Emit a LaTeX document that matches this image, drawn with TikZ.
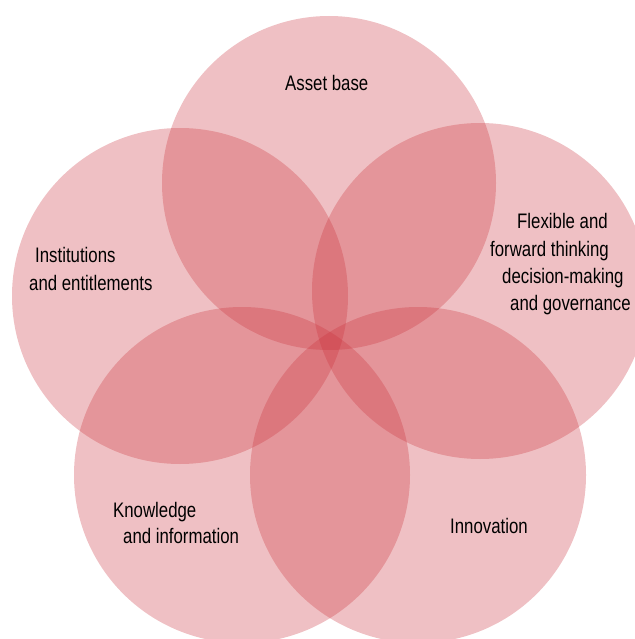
\documentclass[tikz,border=0pt]{standalone}
\usepackage{fontspec}
\setmainfont{Liberation Sans}[FakeStretch=0.8]
\definecolor{petalred}{RGB}{202,48,58}
\begin{document}
\begin{tikzpicture}[x=1bp,y=-1bp,
  petal/.style={fill=petalred,fill opacity=0.3},
  lbl/.style={anchor=base west,inner sep=0pt,font=\fontsize{21bp}{26bp}\selectfont,text=black}]
\useasboundingbox (0,0) rectangle (635,639);
\clip (0,0) rectangle (635,639);
\fill[petal] (329,183) circle (167);
\fill[petal] (180,296) circle (168);
\fill[petal] (480,291) circle (168);
\fill[petal] (242,475) circle (168);
\fill[petal] (418,475) circle (168);
\node[lbl] (asset) at (285,91) {Asset base};
\node[lbl] (flexA) at (517,228) {Flexible and};
\node[lbl] (flexB) at (490,256) {forward thinking};
\node[lbl] (flexC) at (502,283) {decision-making};
\node[lbl] (flexD) at (510,310) {and governance};
\node[lbl] (instA) at (35,262) {Institutions};
\node[lbl] (instB) at (29,290) {and entitlements};
\node[lbl] (knowA) at (113,517) {Knowledge};
\node[lbl] (knowB) at (123,543) {and information};
\node[lbl] (innov) at (450,533) {Innovation};
\end{tikzpicture}
\end{document}
